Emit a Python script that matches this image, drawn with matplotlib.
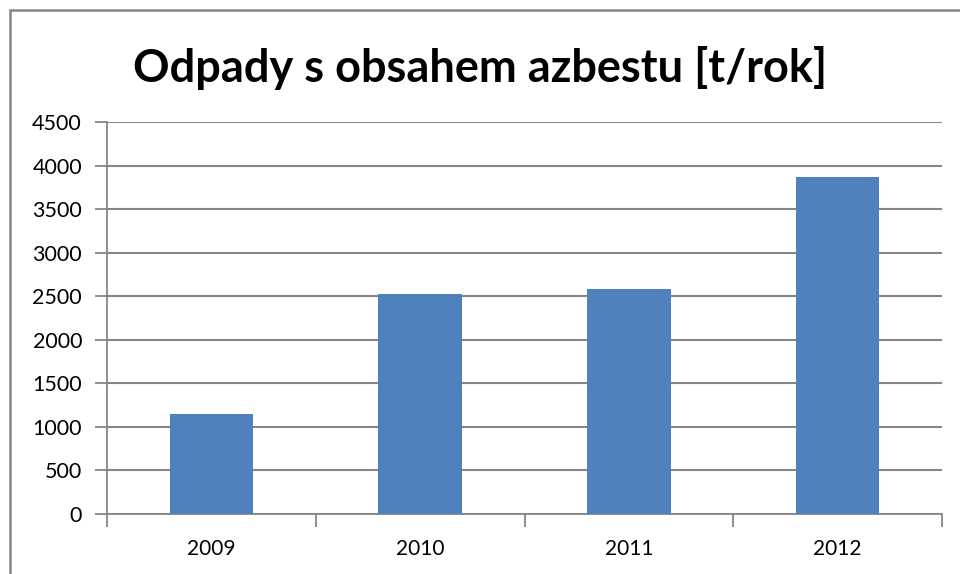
import matplotlib
matplotlib.use("Agg")
import matplotlib.pyplot as plt
from matplotlib.patches import Rectangle

years = ["2009", "2010", "2011", "2012"]
odpady = [1153, 2531, 2588, 3866]
y_ticks = list(range(0, 4501, 500))

plt.rcParams['font.family'] = ['Lato', 'DejaVu Sans']

fig = plt.figure(figsize=(9.6, 5.74), dpi=100)
W, H = 960, 574
ax = fig.add_axes([107 / W, 1 - 514 / H, (942 - 107) / W, (514 - 122) / H])

grey = '#868686'
x = list(range(len(years)))
ax.bar(x, odpady, width=0.4, color='#4F81BD', zorder=3)

ax.set_xlim(-0.5, len(years) - 0.5)
ax.set_ylim(0, 4500)
ax.set_yticks(y_ticks)
ax.set_yticklabels([str(v) for v in y_ticks])
ax.yaxis.grid(True, color=grey, linewidth=1.5)
ax.set_axisbelow(True)

# category labels centred, tick marks between categories
ax.set_xticks(x)
ax.set_xticklabels(years)
ax.set_xticks([i - 0.5 for i in range(len(years) + 1)], minor=True)
ax.tick_params(axis='x', which='major', length=0, pad=18, labelsize=15)
ax.tick_params(axis='x', which='minor', length=9, color=grey, width=1.3)
ax.tick_params(axis='y', length=9, color=grey, width=1.3, labelsize=15.5, pad=9)

for s in ['top', 'right']:
    ax.spines[s].set_visible(False)
for s in ['left', 'bottom']:
    ax.spines[s].set_color(grey)
    ax.spines[s].set_linewidth(1.3)

fig.text(0.5, 1 - 68 / H, "Odpady s obsahem azbestu [t/rok]", ha='center', va='center',
         fontsize=32.5, fontweight='bold')

# outer chart frame
fig.patches.append(Rectangle((10 / W, -0.1), 1.1, 1 - 10 / H + 0.1, transform=fig.transFigure,
                             fill=False, edgecolor=grey, linewidth=1.8))

fig.savefig("out.png", dpi=100)
